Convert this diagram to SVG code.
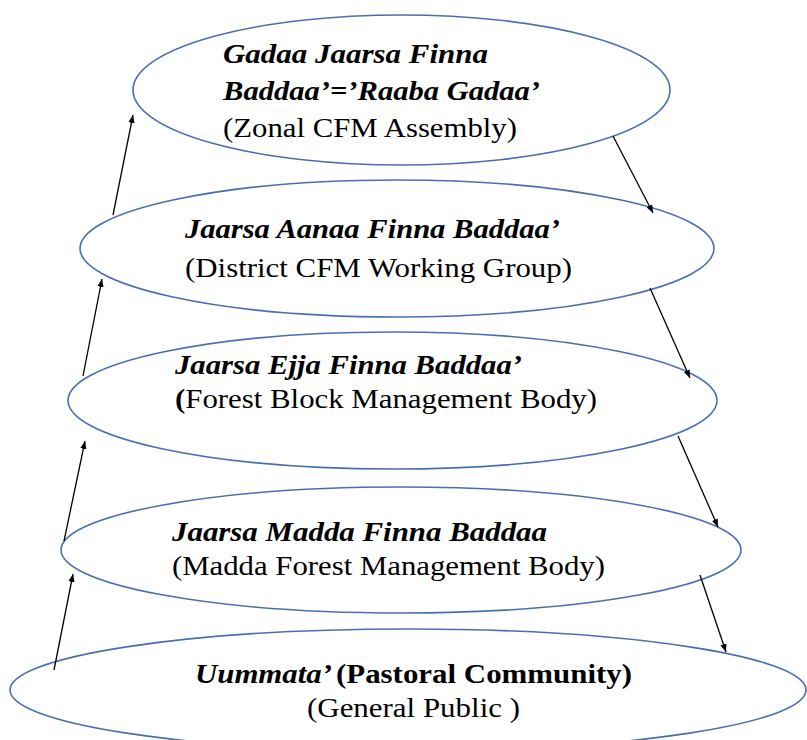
<svg xmlns="http://www.w3.org/2000/svg" width="807" height="740" viewBox="0 0 807 740">
<style>
.node ellipse{fill:#ffffff;stroke:#4a6fb0;stroke-width:1.6}
text{font-family:"Liberation Serif","Times New Roman",serif;font-size:28px;fill:#000}
.bi{font-weight:bold;font-style:italic}
.b{font-weight:bold}
.conn line{stroke:#000;stroke-width:1.3;marker-end:url(#ah)}
</style>
<defs>
<marker id="ah" viewBox="0 0 10 8" refX="10" refY="4" markerWidth="8" markerHeight="6.4" markerUnits="userSpaceOnUse" orient="auto">
<path d="M0,0 L10,4 L0,8 Z" fill="#000"/>
</marker>
</defs>
<rect width="807" height="740" fill="#ffffff"/>
<g id="n5" class="node">
<ellipse cx="408" cy="690" rx="398" ry="61"/>
<text x="195" y="683" class="bi" textLength="137" lengthAdjust="spacingAndGlyphs">Uummata’</text>
<text x="336" y="683" class="b" textLength="296" lengthAdjust="spacingAndGlyphs">(Pastoral Community)</text>
<text x="307" y="717" textLength="213" lengthAdjust="spacingAndGlyphs">(General Public )</text>
</g>
<g id="n4" class="node">
<ellipse cx="401" cy="550" rx="340" ry="63"/>
<text x="172" y="541" class="bi" textLength="375" lengthAdjust="spacingAndGlyphs">Jaarsa Madda Finna Baddaa</text>
<text x="172" y="575" textLength="433" lengthAdjust="spacingAndGlyphs">(Madda Forest Management Body)</text>
</g>
<g id="n3" class="node">
<ellipse cx="392.5" cy="400.5" rx="324.5" ry="68.5"/>
<text x="175" y="374" class="bi" textLength="347" lengthAdjust="spacingAndGlyphs">Jaarsa Ejja Finna Baddaa’</text>
<text x="175" y="408" textLength="422" lengthAdjust="spacingAndGlyphs"><tspan class="b">(</tspan>Forest Block Management Body)</text>
</g>
<g id="n2" class="node">
<ellipse cx="397" cy="248.5" rx="317" ry="68.5"/>
<text x="185" y="238" class="bi" textLength="375" lengthAdjust="spacingAndGlyphs">Jaarsa Aanaa Finna Baddaa’</text>
<text x="185" y="277" textLength="387" lengthAdjust="spacingAndGlyphs">(District CFM Working Group)</text>
</g>
<g id="n1" class="node">
<ellipse cx="401.5" cy="90" rx="268.5" ry="75"/>
<text x="223" y="63" class="bi" textLength="265" lengthAdjust="spacingAndGlyphs">Gadaa Jaarsa Finna</text>
<text x="223" y="100" class="bi" textLength="317" lengthAdjust="spacingAndGlyphs">Baddaa’=’Raaba Gadaa’</text>
<text x="223" y="137" textLength="294" lengthAdjust="spacingAndGlyphs">(Zonal CFM Assembly)</text>
</g>
<g id="connectors" class="conn">
<line x1="54" y1="670" x2="73" y2="574"/>
<line x1="64" y1="541" x2="85" y2="441"/>
<line x1="83" y1="376" x2="102" y2="279"/>
<line x1="113" y1="215" x2="133" y2="115"/>
<line x1="613" y1="136" x2="653" y2="213"/>
<line x1="650" y1="288" x2="690" y2="378"/>
<line x1="678" y1="436" x2="718" y2="527"/>
<line x1="700" y1="575" x2="726" y2="652"/>
</g>
</svg>
